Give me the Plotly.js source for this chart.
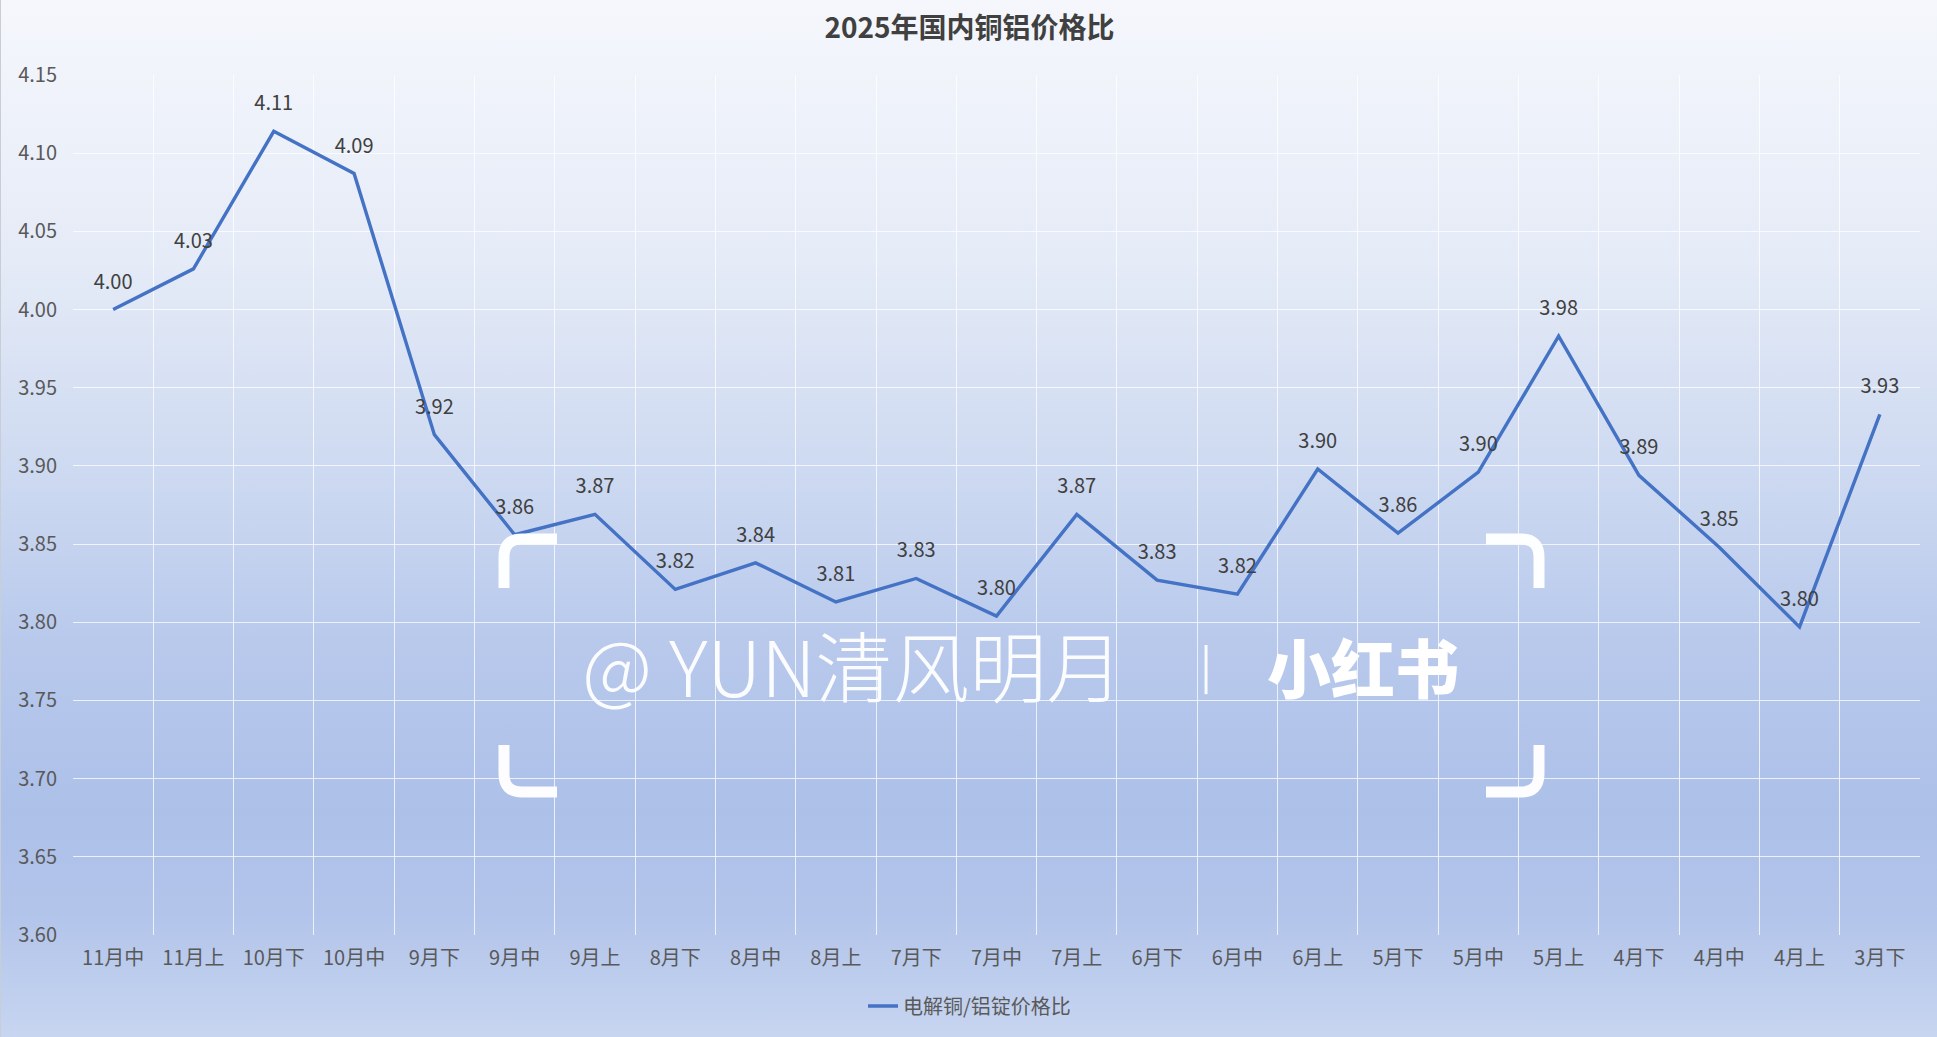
<!DOCTYPE html>
<html>
<head>
<meta charset="utf-8">
<script src="https://cdn.plot.ly/plotly-3.0.1.min.js"></script>
<style>
  html, body { margin: 0; padding: 0; }
  body {
    width: 1937px; height: 1037px; overflow: hidden;
    background: linear-gradient(to bottom, #f5f7fc 0%, #e5ebf7 25%, #cedaf1 45%, #b8c9ec 62%, #adc0e8 78%, #b2c4ea 88%, #c7d5f0 100%);
  }
  #chart { width: 1937px; height: 1037px; border-left: 1px solid #c9cdd6; box-sizing: border-box; }
</style>
</head>
<body>
<div id="chart"></div>
<script>
// ---- data ----
const categories = ["11月中","11月上","10月下","10月中","9月下","9月中","9月上","8月下","8月中","8月上","7月下","7月中","7月上","6月下","6月中","6月上","5月下","5月中","5月上","4月下","4月中","4月上","3月下"];
const ratioValues = [4.000, 4.026, 4.114, 4.087, 3.920, 3.856, 3.869, 3.821, 3.838, 3.813, 3.828, 3.804, 3.869, 3.827, 3.818, 3.898, 3.857, 3.896, 3.983, 3.894, 3.848, 3.797, 3.933];
const seriesName = "电解铜/铝锭价格比";
const chartTitle = "2025年国内铜铝价格比";
const yTickVals = [3.60, 3.65, 3.70, 3.75, 3.80, 3.85, 3.90, 3.95, 4.00, 4.05, 4.10, 4.15];

// ---- layout helpers (pixel -> paper) ----
const W = 1937, H = 1037;
const M = {l: 72, r: 18, t: 75, b: 102, autoexpand: false};
const PW = W - M.l - M.r, PH = H - M.t - M.b;
const px = x => (x - M.l) / PW;
const py = y => (H - M.b - y) / PH;

function bracket(points) {
  const [a, c, e] = points;
  const r = 18;
  const d1 = [Math.sign(c[0]-a[0]), Math.sign(c[1]-a[1])];
  const d2 = [Math.sign(e[0]-c[0]), Math.sign(e[1]-c[1])];
  const p1 = [c[0] - d1[0]*r, c[1] - d1[1]*r];
  const p2 = [c[0] + d2[0]*r, c[1] + d2[1]*r];
  const f = p => px(p[0]).toFixed(5) + "," + py(p[1]).toFixed(5);
  return {
    type: "path", xref: "paper", yref: "paper", layer: "above",
    path: "M" + f(a) + " L" + f(p1) + " Q" + f(c) + " " + f(p2) + " L" + f(e),
    line: {color: "rgba(255,255,255,0.97)", width: 11}
  };
}

const shapes = [
  bracket([[503, 588], [503, 539], [556, 539]]),
  bracket([[503, 745], [503, 792], [556, 792]]),
  bracket([[1485, 539], [1538, 539], [1538, 588]]),
  bracket([[1485, 792], [1538, 792], [1538, 745]])
];

const annotations = [
  {text: "@ YUN清风明月", xref: "paper", yref: "paper", x: px(852), y: py(663), showarrow: false,
   xanchor: "center", yanchor: "middle",
   font: {family: "Noto Sans CJK SC, sans-serif", size: 77, color: "rgba(255,255,255,0.95)", weight: 300}},
  {text: "|", xref: "paper", yref: "paper", x: px(1205), y: py(663), showarrow: false,
   xanchor: "center", yanchor: "middle",
   font: {family: "Noto Sans CJK SC, sans-serif", size: 44, color: "rgba(255,255,255,0.95)", weight: 400}},
  {text: "小红书", xref: "paper", yref: "paper", x: px(1362), y: py(665), showarrow: false,
   xanchor: "center", yanchor: "middle",
   font: {family: "Noto Sans CJK SC, sans-serif", size: 64, color: "#ffffff", weight: 900}}
];

const trace = {
  type: "scatter",
  mode: "lines+markers+text",
  x: categories,
  y: ratioValues,
  name: seriesName,
  line: {color: "#4472C4", width: 3.4},
  marker: {size: 24, color: "rgba(0,0,0,0)"},
  text: ratioValues.map(v => v.toFixed(2)),
  textposition: "top center",
  textfont: {family: "Noto Sans CJK SC, sans-serif", size: 20, color: "#404040"},
  cliponaxis: false,
  hoverinfo: "x+y"
};

const layout = {
  width: W, height: H,
  margin: M,
  paper_bgcolor: "rgba(0,0,0,0)",
  plot_bgcolor: "rgba(0,0,0,0)",
  title: {
    text: "<b>" + chartTitle + "</b>",
    x: 0.5, xref: "container", xanchor: "center",
    y: 1 - 28 / H, yref: "container", yanchor: "middle",
    font: {family: "Noto Sans CJK SC, sans-serif", size: 28, color: "#404040"}
  },
  xaxis: {
    type: "category",
    tickson: "boundaries",
    showgrid: true, gridcolor: "rgba(255,255,255,0.75)", gridwidth: 1,
    showline: false, zeroline: false, ticks: "",
    tickangle: 0,
    automargin: false,
    ticklabelstandoff: 9,
    tickfont: {family: "Noto Sans CJK SC, sans-serif", size: 20, color: "#595959"},
    range: [-0.5, categories.length - 0.5]
  },
  yaxis: {
    range: [3.60, 4.15],
    tickvals: yTickVals,
    tickformat: ".2f",
    automargin: false,
    showgrid: true, gridcolor: "rgba(255,255,255,0.75)", gridwidth: 1,
    showline: false, zeroline: false, ticks: "",
    ticklabelstandoff: 15,
    tickfont: {family: "Noto Sans CJK SC, sans-serif", size: 20, color: "#595959"}
  },
  showlegend: true,
  legend: {
    orientation: "h", x: px(W / 2), xanchor: "center",
    y: py(1006), yanchor: "middle",
    bgcolor: "rgba(0,0,0,0)",
    font: {family: "Noto Sans CJK SC, sans-serif", size: 20, color: "#595959"}
  },
  shapes: shapes,
  annotations: annotations
};

Plotly.newPlot("chart", [trace], layout, {displayModeBar: false, staticPlot: true});
</script>
</body>
</html>
